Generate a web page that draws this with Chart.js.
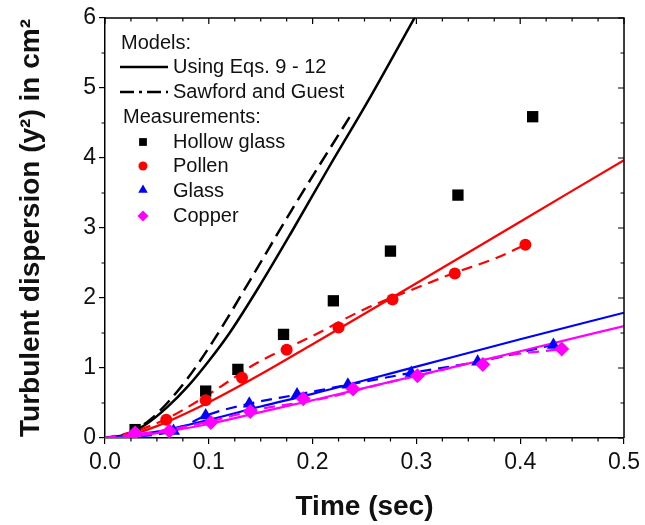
<!DOCTYPE html>
<html>
<head>
<meta charset="utf-8">
<script src="https://cdn.jsdelivr.net/npm/chart.js@4.4.0/dist/chart.umd.min.js"></script>
<style>
  html, body { margin: 0; padding: 0; background: #fff; }
  #chart-container { width: 645px; height: 525px; }
</style>
</head>
<body>
<div id="chart-container"><canvas id="chart" width="645" height="525"></canvas></div>
<script>
// measurements
const hollowTime = [0.029, 0.097, 0.128, 0.172, 0.220, 0.275, 0.340, 0.412];
const hollowDisp = [0.12, 0.67, 0.98, 1.48, 1.96, 2.67, 3.47, 4.59];
const pollenTime = [0.059, 0.097, 0.132, 0.175, 0.225, 0.277, 0.337, 0.405];
const pollenDisp = [0.26, 0.54, 0.86, 1.26, 1.58, 1.98, 2.35, 2.76];
const glassTime = [0.066, 0.097, 0.139, 0.185, 0.234, 0.295, 0.359, 0.432];
const glassDisp = [0.10, 0.32, 0.49, 0.62, 0.76, 0.93, 1.09, 1.33];
const copperTime = [0.029, 0.062, 0.102, 0.140, 0.191, 0.239, 0.301, 0.364, 0.440];
const copperDisp = [0.07, 0.10, 0.22, 0.38, 0.56, 0.70, 0.89, 1.05, 1.27];

// models (Eqs. 9 - 12)
const eqsHollowTime = [0, 0.02, 0.04, 0.06, 0.08, 0.10, 0.12, 0.15, 0.18, 0.215, 0.254, 0.30];
const eqsHollowDisp = [0, 0.05, 0.2, 0.44, 0.74, 1.1, 1.5, 2.2, 2.95, 3.85, 4.83, 6.05];
const modelTime = [0, 0.02, 0.05, 0.1, 0.15, 0.2, 0.3, 0.4, 0.5];
const eqsPollenDisp = [0, 0.03, 0.17, 0.51, 0.91, 1.34, 2.21, 3.09, 3.97];
const eqsGlassDisp = [0, 0.02, 0.09, 0.26, 0.45, 0.63, 1.02, 1.41, 1.79];
const eqsCopperDisp = [0, 0.01, 0.07, 0.20, 0.37, 0.54, 0.89, 1.24, 1.60];

// Sawford and Guest
const sgHollowTime = [0.02, 0.03, 0.045, 0.06, 0.08, 0.104, 0.14, 0.18, 0.238];
const sgHollowDisp = [0.05, 0.12, 0.28, 0.50, 0.86, 1.38, 2.26, 3.26, 4.64];
const sgPollenTime = [0, 0.03, 0.06, 0.075, 0.107, 0.145, 0.199, 0.25, 0.301, 0.337, 0.375, 0.405];
const sgPollenDisp = [0, 0.10, 0.28, 0.40, 0.69, 1.06, 1.45, 1.84, 2.15, 2.36, 2.56, 2.76];
const sgGlassTime = [0, 0.066, 0.097, 0.139, 0.185, 0.234, 0.295, 0.359, 0.432];
const sgGlassDisp = [0, 0.10, 0.32, 0.49, 0.62, 0.76, 0.93, 1.09, 1.33];
const sgCopperTime = [0, 0.062, 0.102, 0.148, 0.206, 0.266, 0.301, 0.384, 0.440];
const sgCopperDisp = [0, 0.12, 0.24, 0.41, 0.55, 0.77, 0.89, 1.17, 1.27];

const xTicks = [0, 0.1, 0.2, 0.3, 0.4, 0.5];
const yTicks = [0, 1, 2, 3, 4, 5, 6];

const FONT = "'Liberation Sans', Arial, sans-serif";

function pts(xs, ys) {
    return xs.map((t, i) => ({ x: t, y: ys[i] }));
}

function markers(label, xs, ys, color, style, radius, rotation) {
    return {
        label: label,
        data: pts(xs, ys),
        showLine: false,
        pointStyle: style,
        pointRadius: radius,
        pointRotation: rotation || 0,
        pointBackgroundColor: color,
        pointBorderColor: color,
        pointBorderWidth: 0
    };
}

function curve(label, xs, ys, color, dash, width) {
    return {
        label: label,
        data: pts(xs, ys),
        showLine: true,
        borderColor: color,
        borderWidth: width || 2,
        borderDash: dash || [],
        pointRadius: 0,
        tension: 0,
        cubicInterpolationMode: 'monotone'
    };
}

const frameTicks = {
    id: 'frameTicks',
    afterDraw(chart) {
        const { ctx, chartArea: a, scales: { x, y } } = chart;
        ctx.save();
        ctx.strokeStyle = '#000';
        ctx.lineWidth = 1.5;
        ctx.beginPath();
        ctx.moveTo(a.left, a.top);
        ctx.lineTo(a.right, a.top);
        ctx.lineTo(a.right, a.bottom);
        ctx.stroke();

        ctx.lineWidth = 1.2;
        ctx.beginPath();
        for (let i = 0; i <= 20; i++) {
            const px = x.getPixelForValue(i * 0.025);
            const major = i % 4 === 0;
            const len = major ? 6 : 3.5;
            if (!major) {
                ctx.moveTo(px, a.bottom);
                ctx.lineTo(px, a.bottom + len);
            }
            ctx.moveTo(px, a.top);
            ctx.lineTo(px, a.top + len);
        }
        for (let i = 0; i <= 12; i++) {
            const py = y.getPixelForValue(i * 0.5);
            const major = i % 2 === 0;
            const len = major ? 6 : 3.5;
            if (!major) {
                ctx.moveTo(a.left, py);
                ctx.lineTo(a.left - len, py);
            }
            ctx.moveTo(a.right, py);
            ctx.lineTo(a.right - len, py);
        }
        ctx.stroke();
        ctx.restore();
    }
};

const boxLegend = {
    id: 'boxLegend',
    afterDraw(chart) {
        const ctx = chart.ctx;
        ctx.save();
        ctx.font = '20px ' + FONT;
        ctx.fillStyle = '#111';
        ctx.textBaseline = 'middle';
        ctx.textAlign = 'left';

        ctx.fillText('Models:', 121, 43);
        ctx.fillText('Using Eqs. 9 - 12', 173, 67);
        ctx.fillText('Sawford and Guest', 173, 92);
        ctx.fillText('Measurements:', 123, 117);
        ctx.fillText('Hollow glass', 173, 142);
        ctx.fillText('Pollen', 173, 166);
        ctx.fillText('Glass', 173, 191);
        ctx.fillText('Copper', 173, 216);

        ctx.strokeStyle = '#000';
        ctx.lineWidth = 2.5;
        ctx.beginPath();
        ctx.moveTo(120, 67);
        ctx.lineTo(168, 67);
        ctx.stroke();
        ctx.setLineDash([14, 5, 3, 5]);
        ctx.beginPath();
        ctx.moveTo(120, 92);
        ctx.lineTo(168, 92);
        ctx.stroke();
        ctx.setLineDash([]);

        const items = [
            ['#000', 'rect', 5.5, 0, 142],
            ['#ff0000', 'circle', 4.5, 0, 166],
            ['#0000ff', 'triangle', 5.5, 0, 190],
            ['#ff00ff', 'rectRot', 5.5, 0, 216]
        ];
        items.forEach(([color, style, r, rot, yy]) => {
            ctx.fillStyle = color;
            ctx.strokeStyle = color;
            Chart.helpers.drawPoint(ctx, { pointStyle: style, radius: r, rotation: rot, borderWidth: 0 }, 143, yy);
        });
        ctx.restore();
    }
};

window.addEventListener('DOMContentLoaded', () => {
    const chartCanvas = document.getElementById('chart');
    const chartContext = chartCanvas.getContext('2d');

    const datasets = [
        markers('Copper', copperTime, copperDisp, '#ff00ff', 'rectRot', 7.5),
        markers('Glass', glassTime, glassDisp, '#0000ff', 'triangle', 7.5),
        markers('Pollen', pollenTime, pollenDisp, '#ff0000', 'circle', 6),
        markers('Hollow glass', hollowTime, hollowDisp, '#000000', 'rect', 8),
        curve('Eqs copper', modelTime, eqsCopperDisp, '#ff00ff', [], 2.2),
        curve('SG copper', sgCopperTime, sgCopperDisp, '#ff00ff', [11, 7], 2.2),
        curve('Eqs glass', modelTime, eqsGlassDisp, '#0000ff', [], 2.2),
        curve('SG glass', sgGlassTime, sgGlassDisp, '#0000ff', [11, 7], 2.2),
        curve('Eqs pollen', modelTime, eqsPollenDisp, '#ff0000', [], 2.2),
        curve('SG pollen', sgPollenTime, sgPollenDisp, '#ff0000', [11, 7], 2.2),
        curve('Eqs hollow', eqsHollowTime, eqsHollowDisp, '#000000', [], 2.5),
        curve('SG hollow', sgHollowTime, sgHollowDisp, '#000000', [14, 7], 2.5)
    ];

    const chart = new Chart(chartContext, {
        type: 'scatter',
        data: { datasets: datasets },
        options: {
            responsive: false,
            animation: false,
            layout: { padding: { top: 18, right: 17, left: 0, bottom: 0 } },
            plugins: {
                legend: { display: false },
                tooltip: { enabled: false }
            },
            scales: {
                x: {
                    type: 'linear',
                    min: 0,
                    max: 0.5,
                    afterBuildTicks: (scale) => { scale.ticks = xTicks.map(v => ({ value: v })); },
                    afterFit: (scale) => { scale.height = 87; },
                    ticks: {
                        color: '#111',
                        padding: 5,
                        font: { family: FONT, size: 23 },
                        callback: (v) => Number(v).toFixed(1)
                    },
                    grid: { drawOnChartArea: false, drawTicks: true, tickLength: 6, color: '#000', lineWidth: 1.2 },
                    border: { display: true, color: '#000', width: 1.5 },
                    title: {
                        display: true,
                        text: 'Time (sec)',
                        color: '#111',
                        font: { family: FONT, size: 28, weight: 'bold' },
                        padding: { top: 0, bottom: 1 }
                    }
                },
                y: {
                    type: 'linear',
                    min: 0,
                    max: 6,
                    afterBuildTicks: (scale) => { scale.ticks = yTicks.map(v => ({ value: v })); },
                    afterFit: (scale) => { scale.width = 105; },
                    ticks: {
                        color: '#111',
                        padding: 3,
                        font: { family: FONT, size: 23 },
                        callback: (v) => String(v)
                    },
                    grid: { drawOnChartArea: false, drawTicks: true, tickLength: 6, color: '#000', lineWidth: 1.2 },
                    border: { display: true, color: '#000', width: 1.5 },
                    title: {
                        display: true,
                        text: 'Turbulent dispersion (y\u00b2) in cm\u00b2',
                        color: '#111',
                        font: { family: FONT, size: 28, weight: 'bold' },
                        padding: { top: 14, bottom: 0 }
                    }
                }
            }
        },
        plugins: [frameTicks, boxLegend]
    });
});
</script>
</body>
</html>
